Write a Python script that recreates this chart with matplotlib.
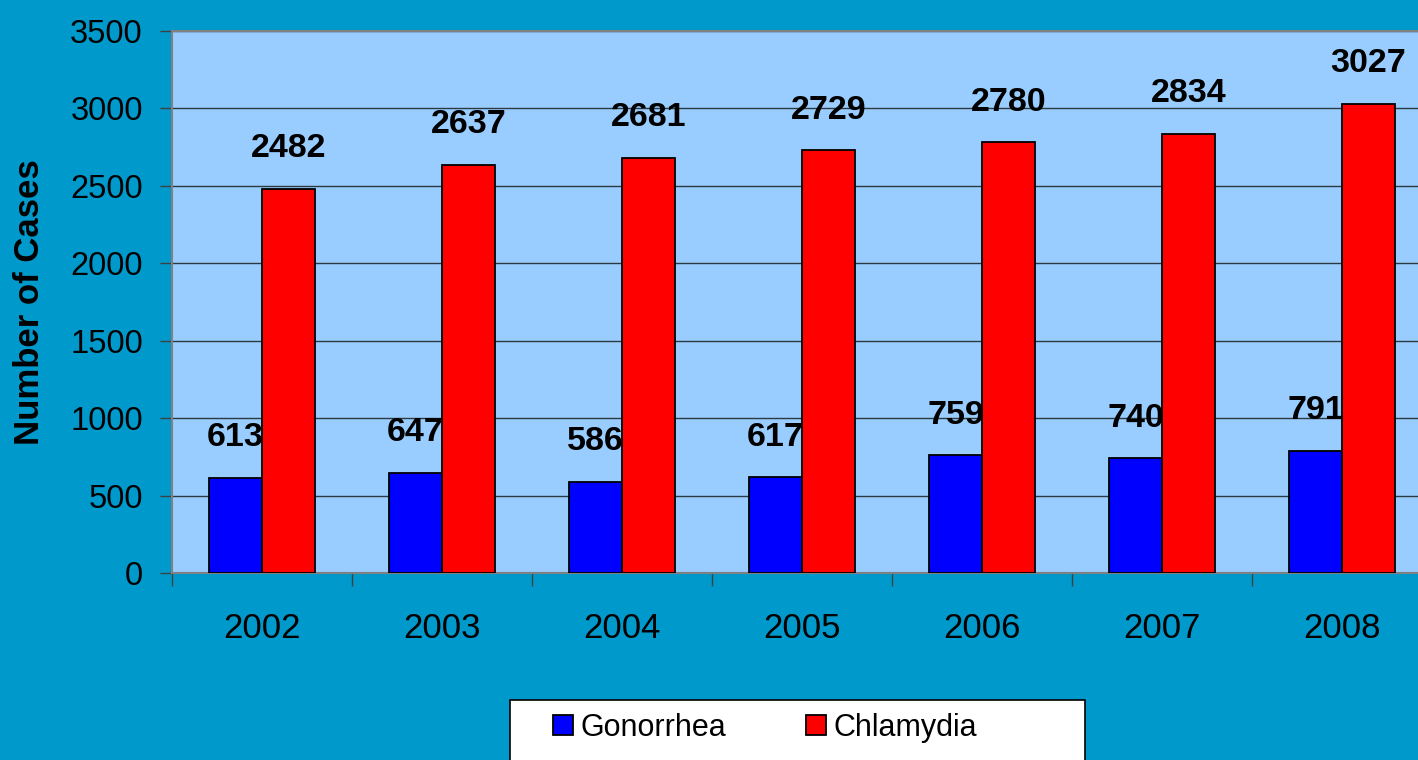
import numpy as np
import matplotlib.pyplot as plt
from matplotlib.patches import Rectangle

plt.rcParams['font.family'] = ['Liberation Sans', 'DejaVu Sans']

years = ['2002', '2003', '2004', '2005', '2006', '2007', '2008']
gonorrhea = [613, 647, 586, 617, 759, 740, 791]
chlamydia = [2482, 2637, 2681, 2729, 2780, 2834, 3027]

fig = plt.figure(figsize=(14.18, 7.6), dpi=100, facecolor='#0099CC')
ax = fig.add_axes([172/1418, 1-573/760, 1260/1418, 542/760])
ax.set_facecolor('#99CCFF')

x = np.arange(len(years))
w = 0.294
b1 = ax.bar(x - w/2, gonorrhea, w, color='#0000FF', edgecolor='black', linewidth=1.3, label='Gonorrhea', zorder=3)
b2 = ax.bar(x + w/2, chlamydia, w, color='#FF0000', edgecolor='black', linewidth=1.3, label='Chlamydia', zorder=3)

for bars, vals in ((b1, gonorrhea), (b2, chlamydia)):
    for r, v in zip(bars, vals):
        ax.annotate(str(v), (r.get_x() + r.get_width()/2, v), xytext=(0, 29),
                    textcoords='offset points', ha='center', va='center',
                    fontsize=24.5, fontweight='bold', zorder=4)

ax.set_xlim(-0.5, len(years) - 0.5)
ax.set_ylim(0, 3500)
ax.set_yticks(np.arange(0, 3501, 500))
ax.yaxis.grid(True, color='#2B3A42', linewidth=1.0)
ax.set_axisbelow(True)

ax.set_xticks(x)
ax.set_xticklabels(years)
ax.set_xticks(np.arange(-0.5, len(years), 1), minor=True)
ax.tick_params(axis='x', which='major', length=0, pad=28, labelsize=25)
ax.tick_params(axis='x', which='minor', length=9, width=1, color='#404040', direction='out')
ax.tick_params(axis='y', length=9, width=1, color='#404040', pad=12, labelsize=23.5)

for s in ('left', 'bottom', 'top'):
    ax.spines[s].set_color('#808080')
    ax.spines[s].set_linewidth(1.5)
ax.spines['right'].set_visible(False)

fig.text(30/1418, 1-302/760, 'Number of Cases', rotation=90, ha='center', va='center',
         fontsize=25, fontweight='bold')

# legend box running off the bottom edge
fig.patches.append(Rectangle((510/1418, -0.1), 575/1418, 0.1 + 60/760,
                             transform=fig.transFigure, facecolor='white',
                             edgecolor='black', linewidth=1.2, zorder=1))
fig.legend(handles=[b1, b2], loc='center left', bbox_to_anchor=(553/1418, 1-728/760),
           ncol=2, frameon=False, fontsize=22, handlelength=0.65, handleheight=0.65,
           handletextpad=0.25, columnspacing=2.6, borderpad=0, borderaxespad=0)

fig.savefig('out.png', dpi=100, facecolor=fig.get_facecolor())
